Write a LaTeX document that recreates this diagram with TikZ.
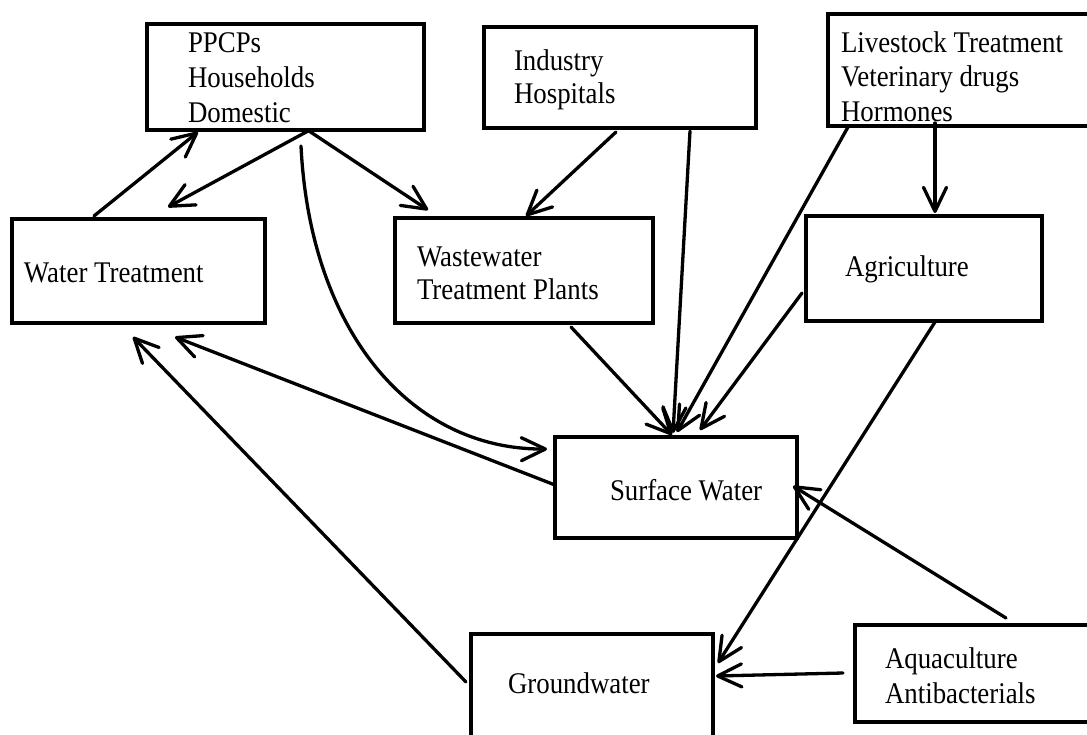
\documentclass[tikz,border=0pt]{standalone}
\usepackage{fontspec}
\setmainfont{Liberation Serif}[FakeStretch=0.895]
\usetikzlibrary{arrows.meta,calc}
\begin{document}
\begin{tikzpicture}[x=0.5pt,y=-0.5pt,
  box/.style={draw, line width=1.65pt, rectangle, inner sep=0pt, outer sep=0pt},
  lbl/.style={inner sep=0pt, outer sep=0pt, align=left, font=\fontsize{15}{#1}\selectfont},
  lbl/.default=17pt,
  arr/.style={line width=1.65pt, line cap=round, -{Straight Barb[length=12pt,width=11.5pt,round]}}]
\useasboundingbox (0,0) rectangle (1087,734);
\fill[white] (0,0) rectangle (1087,734);
\clip (0,0) rectangle (1087,734);

% boxes
\node[box, minimum width=138.5pt, minimum height=53pt] (ppcp) at (285.5,77) {};
\node[box, minimum width=136pt, minimum height=50.5pt] (ind) at (620,77.5) {};
\node[box, minimum width=132pt, minimum height=56pt] (live) at (960,70) {};
\node[box, minimum width=126.5pt, minimum height=52pt] (wt) at (138.5,271) {};
\node[box, minimum width=129pt, minimum height=52.5pt] (ww) at (524,270.5) {};
\node[box, minimum width=118pt, minimum height=52.5pt] (agri) at (924,268.5) {};
\node[box, minimum width=121pt, minimum height=50.5pt] (sw) at (676,487.5) {};
\node[box, minimum width=121pt, minimum height=55.5pt] (gw) at (592,689.5) {};
\node[box, minimum width=118.5pt, minimum height=48.5pt] (aqua) at (973.5,673.5) {};

% labels
\node[lbl=17.5pt, anchor=north west] (ppcpT) at (188,33) {PPCPs\\Households\\Domestic};
\node[lbl=16.5pt, anchor=north west] (indT) at (514,49.5) {Industry\\Hospitals};
\node[lbl=17.25pt, anchor=north west] (liveT) at (841,31.5) {Livestock Treatment\\Veterinary drugs\\Hormones};
\node[lbl, anchor=base west] (wtT) at (24,282) {Water Treatment};
\node[lbl=16.5pt, anchor=north west] (wwT) at (417,247) {Wastewater\\Treatment Plants};
\node[lbl, anchor=base west] (agriT) at (845,276) {Agriculture};
\node[lbl, anchor=base west] (swT) at (610,500) {Surface Water};
\node[lbl, anchor=base west] (gwT) at (508,693) {Groundwater};
\node[lbl=17.5pt, anchor=north west] (aquaT) at (885,647.5) {Aquaculture\\Antibacterials};

% connectors
\draw[arr] ($(wt.north west)+(82,-3)$) -- ($(ppcp.south west)+(51,2)$);
\draw[arr] ($(ppcp.south west)+(161,1)$) -- ($(wt.north west)+(156,-12)$);
\draw[arr] ($(ppcp.south west)+(162,1)$) -- ($(ww.north west)+(33,-8)$);
\draw[arr] ($(ppcp.south west)+(154,16)$) .. controls +(9,184) and +(-137,1) .. ($(sw.north west)+(-8,12)$);
\draw[arr] ($(sw.north west)+(0,48)$) -- ($(wt.south west)+(163,14)$);
\draw[arr] ($(gw.north west)+(-5,48)$) -- ($(wt.south west)+(121,14)$);
\draw[arr] ($(ind.south west)+(132,4)$) -- ($(ww.north west)+(131,-2)$);
\draw[arr] ($(ind.south west)+(206,3)$) -- ($(sw.north west)+(118,-4)$);
\draw[arr] ($(live.south west)+(20,1)$) -- ($(sw.north west)+(122,-5)$);
\draw[arr] ($(ww.south west)+(176,4)$) -- ($(sw.north west)+(117,-2)$);
\draw[arr] ($(agri.north west)+(-4,77)$) -- ($(sw.north west)+(145,-7)$);
\draw[arr] ($(live.south west)+(107,-3)$) -- ($(agri.north west)+(129,-3)$);
\draw[arr] ($(agri.south west)+(129,1)$) -- ($(gw.north east)+(5,29)$);
\draw[arr] ($(aqua.north west)+(-12,48)$) -- ($(gw.north east)+(3,42)$);
\draw[arr] ($(aqua.north west)+(151,-7)$) -- ($(sw.north east)+(-4,49)$);
\end{tikzpicture}
\end{document}
